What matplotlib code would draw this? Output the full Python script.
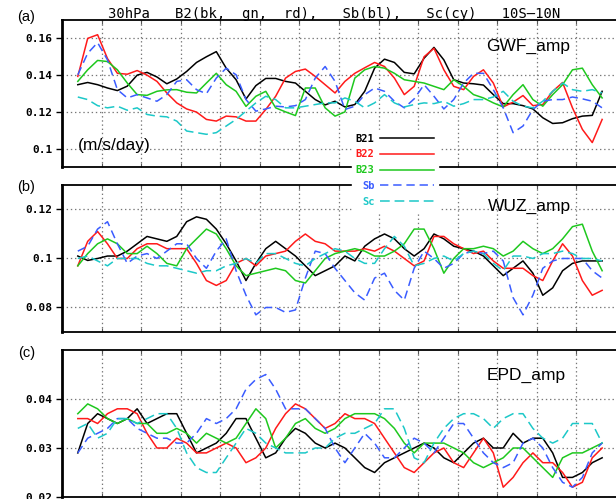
import matplotlib
matplotlib.use('Agg')
import matplotlib.pyplot as plt
import numpy as np
from matplotlib.lines import Line2D

# time axis in grid units (one unit between vertical grid lines)
x = 0.4 + 0.25 * np.arange(54)

# ---- GWF_amp ----
gwf_b21 = [.1348, .1360, .1348, .1330, .1316, .1340, .1400, .1415, .1390, .1353,
           .1379, .1420, .1469, .1500, .1528, .1438, .1375, .1270, .1343, .1382,
           .1382, .1366, .1357, .1312, .1267, .1238, .1258, .1227, .1240, .1312,
           .1438, .1487, .1469, .1415, .1407, .1492, .1551, .1483, .1375, .1357,
           .1353, .1346, .1294, .1245, .1245, .1234, .1216, .1168, .1137, .1141,
           .1163, .1177, .1181, .1312]
gwf_b22 = [.1393, .1600, .1620, .1490, .1410, .1405, .1425, .1400, .1366, .1303,
           .1249, .1216, .1199, .1159, .1150, .1177, .1173, .1150, .1150, .1213,
           .1285, .1384, .1420, .1433, .1393, .1348, .1303, .1366, .1410, .1440,
           .1469, .1447, .1384, .1294, .1339, .1500, .1546, .1429, .1339, .1321,
           .1393, .1429, .1357, .1227, .1253, .1289, .1234, .1240, .1312, .1360,
           .1222, .1105, .1033, .1159]
gwf_b23 = [.1366, .1429, .1480, .1474, .1429, .1357, .1294, .1290, .1312, .1320,
           .1321, .1307, .1303, .1357, .1410, .1348, .1312, .1230, .1285, .1312,
           .1222, .1200, .1180, .1330, .1330, .1222, .1177, .1200, .1384, .1429,
           .1447, .1438, .1410, .1375, .1366, .1357, .1339, .1321, .1375, .1339,
           .1294, .1276, .1249, .1227, .1294, .1348, .1267, .1231, .1294, .1348,
           .1429, .1438, .1348, .1276]
gwf_sb = [.1402, .1519, .1577, .1483, .1321, .1276, .1294, .1276, .1258, .1294,
          .1366, .1375, .1321, .1299, .1384, .1438, .1402, .1267, .1204, .1216,
          .1231, .1227, .1234, .1267, .1384, .1447, .1366, .1213, .1231, .1294,
          .1330, .1312, .1258, .1222, .1271, .1348, .1285, .1216, .1267, .1357,
          .1410, .1410, .1321, .1222, .1087, .1123, .1213, .1258, .1267, .1267,
          .1281, .1271, .1258, .1222]
gwf_sc = [.1281, .1267, .1234, .1222, .1231, .1209, .1222, .1186, .1177, .1173,
          .1150, .1096, .1087, .1078, .1087, .1123, .1159, .1204, .1249, .1285,
          .1267, .1222, .1222, .1231, .1240, .1249, .1249, .1276, .1258, .1222,
          .1249, .1294, .1249, .1227, .1240, .1249, .1245, .1258, .1231, .1245,
          .1267, .1267, .1281, .1312, .1258, .1231, .1222, .1258, .1312, .1357,
          .1321, .1312, .1321, .1303]

# ---- WUZ_amp ----
wuz_b21 = [.101, .0992, .100, .101, .101, .103, .106, .109, .108, .107,
           .109, .115, .117, .116, .112, .106, .099, .091, .098, .104,
           .107, .104, .101, .097, .093, .095, .097, .101, .099, .105,
           .108, .110, .108, .104, .101, .104, .110, .108, .105, .104,
           .103, .101, .097, .093, .096, .099, .094, .085, .088, .095,
           .098, .099, .099, .099]
wuz_b22 = [.097, .107, .111, .106, .100, .100, .104, .106, .106, .104,
           .104, .104, .098, .091, .089, .091, .098, .100, .097, .101,
           .102, .103, .107, .110, .107, .106, .103, .103, .103, .104,
           .103, .105, .103, .100, .097, .099, .109, .109, .106, .104,
           .102, .103, .099, .096, .096, .096, .093, .091, .099, .106,
           .101, .091, .085, .087]
wuz_b23 = [.097, .102, .106, .108, .106, .102, .102, .105, .102, .098,
           .097, .104, .108, .112, .110, .104, .097, .093, .094, .095,
           .096, .095, .091, .090, .095, .100, .102, .103, .104, .103,
           .101, .101, .103, .106, .112, .112, .104, .094, .100, .104,
           .104, .105, .104, .101, .103, .107, .104, .102, .104, .108,
           .113, .114, .103, .095]
wuz_sb = [.103, .105, .112, .115, .106, .098, .101, .102, .100, .103,
          .106, .106, .100, .096, .103, .108, .095, .085, .077, .080,
          .080, .078, .079, .092, .103, .102, .096, .091, .086, .083,
          .092, .094, .087, .083, .096, .103, .100, .096, .098, .102,
          .103, .102, .103, .099, .084, .077, .085, .096, .099, .100,
          .100, .100, .095, .092]
wuz_sc = [.100, .101, .099, .097, .100, .100, .100, .098, .097, .097,
          .096, .095, .094, .095, .095, .097, .098, .100, .098, .102,
          .102, .100, .098, .097, .100, .102, .104, .103, .100, .098,
          .098, .104, .109, .105, .097, .098, .100, .101, .099, .102,
          .103, .102, .098, .095, .101, .101, .100, .102, .102, .103,
          .102, .100, .100, .099]

# ---- EPD_amp ----
epd_b21 = [.029, .035, .037, .036, .035, .036, .038, .035, .036, .037,
           .037, .033, .029, .030, .031, .033, .036, .036, .032, .028,
           .029, .032, .034, .033, .031, .030, .031, .030, .028, .026,
           .025, .027, .028, .029, .030, .031, .030, .028, .027, .029,
           .031, .032, .030, .030, .033, .031, .032, .032, .029, .024,
           .024, .025, .027, .028]
epd_b22 = [.036, .036, .035, .037, .038, .038, .037, .033, .030, .030,
           .032, .031, .029, .029, .030, .031, .030, .027, .028, .030,
           .034, .037, .039, .038, .036, .034, .035, .037, .036, .036,
           .035, .032, .029, .026, .025, .027, .029, .030, .027, .026,
           .029, .032, .029, .022, .024, .027, .029, .027, .027, .025,
           .022, .023, .028, .030]
epd_b23 = [.037, .039, .038, .036, .035, .036, .035, .035, .033, .033,
           .034, .033, .031, .033, .032, .031, .032, .035, .038, .036,
           .030, .032, .035, .036, .034, .033, .034, .036, .037, .037,
           .037, .036, .034, .031, .029, .031, .031, .031, .030, .029,
           .027, .026, .027, .028, .030, .030, .028, .026, .024, .028,
           .029, .029, .030, .031]
epd_sb = [.029, .032, .033, .034, .036, .036, .034, .033, .032, .032,
          .031, .031, .033, .036, .035, .036, .038, .042, .044, .045,
          .042, .038, .038, .038, .036, .034, .030, .027, .030, .033,
          .031, .028, .028, .030, .032, .031, .029, .032, .035, .035,
          .032, .029, .027, .026, .027, .031, .032, .030, .026, .023,
          .022, .024, .029, .031]
epd_sc = [.034, .035, .032, .033, .036, .036, .035, .036, .037, .037,
          .034, .029, .026, .025, .025, .028, .031, .034, .033, .031,
          .030, .029, .029, .029, .030, .030, .032, .033, .033, .034,
          .035, .038, .038, .034, .028, .027, .031, .034, .036, .037,
          .037, .036, .034, .036, .037, .037, .034, .032, .031, .032,
          .035, .035, .035, .031]

series_names = ["B21", "B22", "B23", "Sb", "Sc"]
colors = ["black", "#ff1a1a", "#1ec81e", "#3a5cff", "#1cc8c8"]
dashes = [None, None, None, (6, 3.5), (7, 3.5)]

title = "30hPa   B2(bk,  gn,  rd),   Sb(bl),   Sc(cy)   10S\u201410N"

plt.rcParams['lines.scale_dashes'] = False
mono = {'family': 'DejaVu Sans Mono', 'weight': 'bold'}

fig = plt.figure(figsize=(6.16, 4.99), dpi=100)

panels = [
    ([gwf_b21, gwf_b22, gwf_b23, gwf_sb, gwf_sc], 0.6653, (0.09, 0.17),
     [0.10, 0.12, 0.14, 0.16], ["0.1", "0.12", "0.14", "0.16"],
     "GWF_amp", (11.77, 0.1555), "(a)", 0.966),
    ([wuz_b21, wuz_b22, wuz_b23, wuz_sb, wuz_sc], 0.3347, (0.07, 0.13),
     [0.08, 0.10, 0.12], ["0.08", "0.1", "0.12"],
     "WUZ_amp", (11.82, 0.1211), "(b)", 0.625),
    ([epd_b21, epd_b22, epd_b23, epd_sb, epd_sc], 0.004, (0.02, 0.05),
     [0.02, 0.03, 0.04], ["0.02", "0.03", "0.04"],
     "EPD_amp", (11.72, 0.0449), "(c)", 0.292),
]

for data, bottom, ylim, yt, ytl, name, name_xy, tag, tag_y in panels:
    ax = fig.add_axes([0.1006, bottom, 0.8994, 0.2946])
    for vals, c, d in zip(data, colors, dashes):
        line, = ax.plot(x, vals, color=c, lw=1.1)
        if d is not None:
            line.set_dashes(d)
    ax.set_xlim(0, 14)
    ax.set_ylim(*ylim)
    ax.set_xticks(np.arange(1, 14))
    ax.set_yticks(yt)
    ax.set_yticklabels(ytl, fontdict=mono, fontsize=8)
    ax.tick_params(axis='x', direction='in', length=3, top=True,
                   labelbottom=False, width=0.8, color='#555555')
    ax.tick_params(axis='y', direction='out', length=4, width=1, pad=3)
    ax.grid(True, ls=(0, (1, 2)), color='#777777', lw=0.9)
    ax.spines['right'].set_visible(False)
    ax.spines['left'].set_linewidth(2.0)
    ax.spines['top'].set_linewidth(1.3)
    ax.spines['bottom'].set_linewidth(1.3)
    ax.text(name_xy[0], name_xy[1], name, ha='center', va='center',
            fontsize=12.5, family='Liberation Sans')
    fig.text(0.043, tag_y, tag, ha='center', va='center', fontsize=10.5,
             family='Liberation Sans')
    if name == "GWF_amp":
        ax.text(1.31, 0.1016, "(m/s/day)", ha='center', va='center',
                fontsize=12.5, family='Liberation Sans')

fig.text(0.542, 0.972, title, ha='center', va='center', fontsize=10,
         family='DejaVu Sans Mono')

handles = []
for c, d in zip(colors, dashes):
    h = Line2D([], [], color=c, lw=1.1)
    if d is not None:
        h.set_dashes(d)
    handles.append(h)
leg = fig.legend(handles, series_names, loc='center',
                 bbox_to_anchor=(0.641, 0.659), markerfirst=False,
                 frameon=True, fancybox=False, facecolor='white',
                 edgecolor='white', framealpha=1,
                 prop={'family': 'DejaVu Sans Mono', 'weight': 'bold', 'size': 7.5},
                 handlelength=5.2, handletextpad=0.5, labelspacing=0.55,
                 borderpad=0.4, borderaxespad=0)
for t, c in zip(leg.get_texts(), colors):
    t.set_color(c)

plt.savefig("out.png", dpi=100)
